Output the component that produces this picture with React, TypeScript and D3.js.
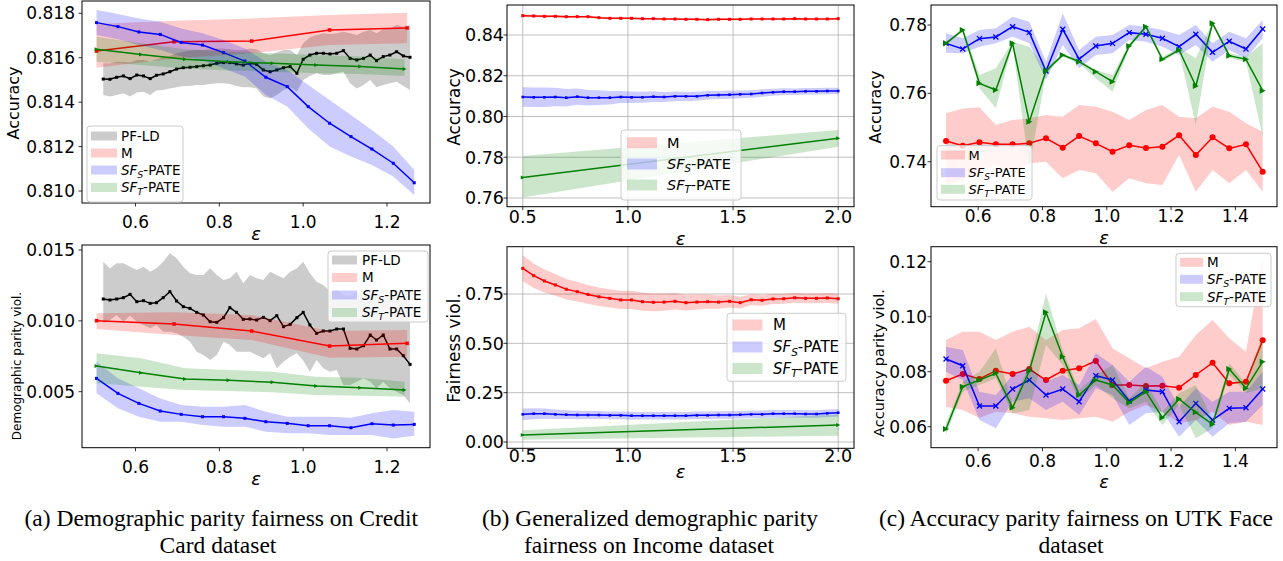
import React from 'react'
import * as d3 from 'd3'

// ---------- (a) Credit Card ----------
const epsPF = [0.523, 0.539, 0.555, 0.571, 0.587, 0.603, 0.619, 0.635, 0.65, 0.666, 0.682, 0.698, 0.714, 0.73, 0.746, 0.762,
  0.778, 0.794, 0.81, 0.825, 0.841, 0.857, 0.873, 0.889, 0.905, 0.921, 0.937, 0.953, 0.969, 0.985, 1.0, 1.016, 1.032,
  1.048, 1.064, 1.08, 1.096, 1.112, 1.128, 1.144, 1.16, 1.175, 1.191, 1.207, 1.223, 1.239, 1.255]
const epsAM = [0.507, 0.692, 0.877, 1.063, 1.248]
const epsAS = [0.507, 0.558, 0.608, 0.659, 0.709, 0.76, 0.81, 0.861, 0.911, 0.962, 1.012, 1.063, 1.114, 1.164, 1.215, 1.265]
const epsAT = [0.507, 0.613, 0.718, 0.822, 0.927, 1.031, 1.136, 1.242]

const accAPF = [0.81504, 0.81503, 0.81512, 0.81518, 0.81506, 0.81522, 0.81518, 0.81506, 0.81521, 0.81527,
  0.81537, 0.81549, 0.81555, 0.81557, 0.8156, 0.81564, 0.81567, 0.81575, 0.81578, 0.81578,
  0.81572, 0.81567, 0.81575, 0.8157, 0.81545, 0.81537, 0.81545, 0.81555, 0.8156, 0.8153,
  0.81593, 0.81612, 0.8162, 0.8162, 0.81617, 0.8162, 0.81632, 0.81597, 0.8159, 0.81597,
  0.81612, 0.81587, 0.81605, 0.81612, 0.81627, 0.81608, 0.81602]
const accAPFHi = [0.81575, 0.81575, 0.81582, 0.81582, 0.81578, 0.8159, 0.8159, 0.81582, 0.81593, 0.81602,
  0.81608, 0.8162, 0.81627, 0.81632, 0.81635, 0.81635, 0.81638, 0.81642, 0.81642, 0.81638,
  0.81635, 0.81635, 0.81642, 0.81638, 0.8162, 0.81612, 0.81623, 0.81635, 0.81635, 0.81612,
  0.81665, 0.81692, 0.81702, 0.8171, 0.81707, 0.8171, 0.81717, 0.8171, 0.81702, 0.81717,
  0.81725, 0.8171, 0.81728, 0.81732, 0.81747, 0.8174, 0.81747]
const accAPFLo = [0.81432, 0.81425, 0.81432, 0.8144, 0.81425, 0.81443, 0.81447, 0.81432, 0.81452, 0.81455,
  0.81462, 0.81467, 0.81473, 0.81473, 0.81477, 0.81477, 0.81482, 0.81485, 0.81485, 0.81482,
  0.81473, 0.81467, 0.81467, 0.81462, 0.81425, 0.81417, 0.81432, 0.81455, 0.81467, 0.81447,
  0.815, 0.81518, 0.8153, 0.81522, 0.81522, 0.8153, 0.81537, 0.81485, 0.81462, 0.81477,
  0.815, 0.81467, 0.81477, 0.81485, 0.81492, 0.81473, 0.81455]
const accAM = [0.8163, 0.81672, 0.81675, 0.81725, 0.81734]
const accAMHi = [0.81752, 0.81767, 0.81777, 0.81792, 0.81803]
const accAMLo = [0.81555, 0.81597, 0.8162, 0.81657, 0.81665]
const accAS = [0.81758, 0.8174, 0.81716, 0.81705, 0.81669, 0.81657, 0.81623, 0.81585, 0.81512, 0.8147, 0.8138, 0.81305,
  0.81245, 0.81189, 0.81125, 0.81037]
const accASHi = [0.81815, 0.81797, 0.81777, 0.81762, 0.81732, 0.8171, 0.8168, 0.81642, 0.81582, 0.81545, 0.81477, 0.8141,
  0.81342, 0.81275, 0.812, 0.81095]
const accASLo = [0.81702, 0.81683, 0.81657, 0.81635, 0.81605, 0.8159, 0.81552, 0.81515, 0.81432, 0.8138, 0.81282, 0.812,
  0.81155, 0.81117, 0.81065, 0.80982]
const accAT = [0.81638, 0.81615, 0.81593, 0.81582, 0.81575, 0.81567, 0.8156, 0.81549]
const accATHi = [0.81695, 0.81665, 0.81638, 0.81627, 0.8162, 0.81612, 0.81605, 0.81593]
const accATLo = [0.81582, 0.81567, 0.81552, 0.81542, 0.81537, 0.8153, 0.81527, 0.81518]

const dpAPF = [0.011541, 0.011471, 0.011541, 0.011635, 0.01187, 0.011353, 0.011424, 0.011235, 0.011282, 0.011635,
  0.012059, 0.0114, 0.011, 0.010882, 0.0106, 0.010412, 0.009941, 0.009894, 0.010224, 0.010929,
  0.0106, 0.010106, 0.010129, 0.010059, 0.010247, 0.010012, 0.010365, 0.009588, 0.009753, 0.010224,
  0.0106, 0.009706, 0.009118, 0.009282, 0.009282, 0.009423, 0.009423, 0.008059, 0.008012, 0.008247,
  0.009, 0.008647, 0.009, 0.008012, 0.008012, 0.007541, 0.006929]
const dpAPFHi = [0.014176, 0.013706, 0.014059, 0.014059, 0.013824, 0.013588, 0.013824, 0.013471, 0.013706, 0.014176,
  0.014765, 0.014412, 0.013824, 0.013353, 0.013235, 0.013235, 0.013706, 0.013235, 0.012882, 0.013,
  0.013471, 0.012647, 0.013235, 0.013, 0.012882, 0.013471, 0.013235, 0.013, 0.013471, 0.013706,
  0.014176, 0.013353, 0.012765, 0.012529, 0.012059, 0.012176, 0.011824, 0.011706, 0.012059, 0.011706,
  0.012059, 0.011941, 0.011706, 0.011824, 0.011706, 0.011588, 0.011353]
const dpAPFLo = [0.009823, 0.010059, 0.010412, 0.009941, 0.010365, 0.009941, 0.009706, 0.009471, 0.009706, 0.009235,
  0.009235, 0.009118, 0.008882, 0.008529, 0.007824, 0.007588, 0.007235, 0.007588, 0.008529, 0.008294,
  0.007824, 0.007824, 0.007824, 0.007588, 0.007353, 0.007706, 0.006647, 0.007118, 0.00747, 0.007706,
  0.0072, 0.006412, 0.007235, 0.006647, 0.006412, 0.006529, 0.00547, 0.00547, 0.005706, 0.005941,
  0.005706, 0.005235, 0.005706, 0.005235, 0.005, 0.004765, 0.004176]
const dpAM = [0.010012, 0.009776, 0.009282, 0.008223, 0.008412]
const dpAMHi = [0.010529, 0.0106, 0.010412, 0.009282, 0.009353]
const dpAMLo = [0.009423, 0.009, 0.008647, 0.0074, 0.00747]
const dpAS = [0.005941, 0.004882, 0.004176, 0.003635, 0.0034, 0.003235, 0.003235, 0.003118, 0.002882, 0.002765, 0.0026,
  0.0026, 0.002459, 0.002741, 0.002647, 0.002694]
const dpASHi = [0.007118, 0.005941, 0.005235, 0.004529, 0.004059, 0.003941, 0.003941, 0.004059, 0.003588, 0.003235,
  0.003235, 0.003235, 0.003165, 0.003471, 0.003706, 0.003588]
const dpASLo = [0.004882, 0.003824, 0.003235, 0.002882, 0.002882, 0.002647, 0.002529, 0.002529, 0.002176, 0.002059,
  0.002059, 0.001941, 0.001941, 0.001941, 0.001706, 0.001894]
const dpAT = [0.006812, 0.006341, 0.005894, 0.0058, 0.005659, 0.0054, 0.005282, 0.005118]
const dpATHi = [0.007706, 0.007353, 0.006647, 0.006529, 0.006412, 0.006059, 0.005988, 0.005706]
const dpATLo = [0.005588, 0.005353, 0.005118, 0.005047, 0.004953, 0.004765, 0.004718, 0.004647]

// ---------- (b) Income ----------
const epsB = [0.5, 0.552, 0.603, 0.655, 0.707, 0.759, 0.81, 0.862, 0.914, 0.966, 1.017, 1.069, 1.121, 1.172, 1.224,
  1.276, 1.328, 1.379, 1.431, 1.483, 1.534, 1.586, 1.638, 1.69, 1.741, 1.793, 1.845, 1.897, 1.948, 2.0]
const epsBT = [0.5, 2.0]

const accBM = [0.84949, 0.84933, 0.84916, 0.84916, 0.849, 0.849, 0.849, 0.84851, 0.84818, 0.84818, 0.84818, 0.84802,
  0.84802, 0.84785, 0.84785, 0.84769, 0.84769, 0.84753, 0.84769, 0.84769, 0.84769, 0.84785, 0.84785, 0.84785,
  0.84785, 0.84802, 0.84785, 0.84785, 0.84785, 0.84802]
const accBMSd = [0.0006, 0.0006, 0.0006, 0.0006, 0.0005, 0.0005, 0.0005, 0.0005, 0.0005, 0.0005, 0.0005, 0.0005, 0.0005,
  0.0005, 0.0005, 0.0005, 0.0005, 0.0005, 0.0005, 0.0005, 0.0005, 0.0005, 0.0005, 0.0005, 0.0005, 0.0005, 0.0005,
  0.0005, 0.0005, 0.0005]
const accBS = [0.80957, 0.80941, 0.80941, 0.80957, 0.80924, 0.80973, 0.80924, 0.80924, 0.80924, 0.80957, 0.80941,
  0.80941, 0.80973, 0.80957, 0.8099, 0.8099, 0.8099, 0.81039, 0.81055, 0.81072, 0.81088, 0.81104, 0.81153, 0.81186,
  0.81219, 0.81219, 0.81235, 0.81235, 0.81251, 0.81251]
const accBSSd = [0.0048, 0.0048, 0.0048, 0.0045, 0.0043, 0.004, 0.0038, 0.0036, 0.0033, 0.003, 0.0028, 0.0027, 0.0026,
  0.0025, 0.0024, 0.0023, 0.0022, 0.0021, 0.002, 0.002, 0.0019, 0.0018, 0.0018, 0.0017, 0.0017, 0.0016, 0.0016,
  0.0016, 0.0016, 0.0016]
const accBT = [0.7701, 0.7893]
const accBTHi = [0.7806, 0.7934]
const accBTLo = [0.7603, 0.7852]

const fvBM = [0.88, 0.843, 0.816, 0.796, 0.774, 0.762, 0.748, 0.736, 0.728, 0.72, 0.72, 0.711, 0.708, 0.709, 0.713,
  0.706, 0.709, 0.711, 0.709, 0.713, 0.706, 0.721, 0.718, 0.725, 0.726, 0.731, 0.728, 0.728, 0.73, 0.726]
const fvBMSd = [0.066, 0.062, 0.058, 0.055, 0.052, 0.05, 0.048, 0.047, 0.046, 0.046, 0.046, 0.046, 0.045, 0.044, 0.042,
  0.04, 0.038, 0.036, 0.034, 0.032, 0.03, 0.028, 0.027, 0.026, 0.025, 0.025, 0.025, 0.025, 0.025, 0.025]
const fvBS = [0.1402, 0.1436, 0.1436, 0.1402, 0.1385, 0.1368, 0.1368, 0.1368, 0.1351, 0.1351, 0.1334, 0.1334, 0.1334,
  0.1334, 0.1334, 0.1334, 0.1351, 0.1351, 0.1368, 0.1368, 0.1385, 0.1402, 0.1402, 0.1436, 0.1436, 0.1436, 0.1419,
  0.1419, 0.1453, 0.1486]
const fvBSSd = [0.03, 0.028, 0.026, 0.024, 0.022, 0.021, 0.02, 0.02, 0.02, 0.02, 0.02, 0.019, 0.019, 0.019, 0.019,
  0.019, 0.019, 0.019, 0.019, 0.019, 0.019, 0.019, 0.019, 0.019, 0.019, 0.019, 0.019, 0.019, 0.019, 0.019]
const fvBT = [0.0355, 0.0861]
const fvBTHi = [0.06, 0.14]
const fvBTLo = [0.012, 0.032]

// ---------- (c) UTK Face ----------
const epsC = [0.5, 0.552, 0.604, 0.655, 0.707, 0.759, 0.811, 0.863, 0.914, 0.966, 1.018, 1.07, 1.122, 1.173, 1.225,
  1.277, 1.329, 1.381, 1.433, 1.485]

const accCM = [0.74605, 0.74468, 0.74566, 0.74507, 0.74507, 0.74537, 0.74683, 0.7441, 0.74751, 0.74537, 0.74293,
  0.74478, 0.744, 0.74439, 0.74771, 0.74195, 0.74712, 0.7439, 0.74507, 0.73707]
const accCMHi = [0.75415, 0.7556, 0.7559, 0.75073, 0.7522, 0.75268, 0.75366, 0.75317, 0.75659, 0.7561, 0.75463, 0.7522,
  0.75512, 0.75659, 0.75317, 0.75268, 0.7561, 0.75463, 0.75122, 0.74878]
const accCMLo = [0.73317, 0.73463, 0.73756, 0.73902, 0.73659, 0.73951, 0.74, 0.73512, 0.73756, 0.73659, 0.73122,
  0.73512, 0.73366, 0.73317, 0.74195, 0.73122, 0.73756, 0.73366, 0.73756, 0.73122]
const accCS = [0.77463, 0.77298, 0.776, 0.77649, 0.77951, 0.77785, 0.76654, 0.77873, 0.77005, 0.77385, 0.77463,
  0.77776, 0.77727, 0.7761, 0.77366, 0.77727, 0.772, 0.77522, 0.77298, 0.77883]
const accCSHi = [0.77756, 0.7761, 0.77854, 0.77902, 0.78244, 0.78098, 0.76927, 0.78341, 0.77268, 0.77659, 0.77707,
  0.78, 0.77951, 0.77854, 0.77707, 0.78, 0.77463, 0.77805, 0.7761, 0.78146]
const accCSLo = [0.7719, 0.77171, 0.77366, 0.77463, 0.77659, 0.77463, 0.7639, 0.77415, 0.76732, 0.77122, 0.77171,
  0.77561, 0.77512, 0.77366, 0.77122, 0.77415, 0.76927, 0.77268, 0.77024, 0.7761]
const accCT = [0.77463, 0.77854, 0.76293, 0.76098, 0.77463, 0.75171, 0.76654, 0.77122, 0.76927, 0.76634, 0.76341,
  0.77385, 0.77951, 0.76995, 0.77268, 0.76215, 0.78049, 0.77102, 0.76995, 0.76078]
const accCTHi = [0.77512, 0.77902, 0.76537, 0.76732, 0.77512, 0.77366, 0.76732, 0.77171, 0.76976, 0.76683, 0.76537,
  0.77463, 0.78, 0.77073, 0.77317, 0.77024, 0.78098, 0.77171, 0.77073, 0.77463]
const accCTLo = [0.77415, 0.77805, 0.76146, 0.75561, 0.77415, 0.73805, 0.76585, 0.77073, 0.76878, 0.76439, 0.76049,
  0.77317, 0.77902, 0.76927, 0.7722, 0.75073, 0.78, 0.77024, 0.76927, 0.74732]

const apCM = [0.07673, 0.07915, 0.07733, 0.08036, 0.07915, 0.08097, 0.07697, 0.08036, 0.08121, 0.08388, 0.07515,
  0.07515, 0.07479, 0.07491, 0.07418, 0.07879, 0.08327, 0.07576, 0.07636, 0.09139]
const apCMHi = [0.09152, 0.09455, 0.09455, 0.09152, 0.09455, 0.09636, 0.09152, 0.09515, 0.09576, 0.09915, 0.08848,
  0.08485, 0.08121, 0.08364, 0.08545, 0.09333, 0.09879, 0.09212, 0.08727, 0.12242]
const apCMLo = [0.06727, 0.06606, 0.06327, 0.06545, 0.06485, 0.06364, 0.06303, 0.06242, 0.06303, 0.06364, 0.06182,
  0.06545, 0.06788, 0.06545, 0.06121, 0.06242, 0.06545, 0.06061, 0.06182, 0.06061]
const apCS = [0.0846, 0.08218, 0.06752, 0.06752, 0.0737, 0.07697, 0.07152, 0.0737, 0.06909, 0.07855, 0.07697, 0.06933,
  0.07333, 0.07273, 0.06182, 0.06848, 0.06242, 0.06667, 0.06691, 0.0737]
const apCSHi = [0.08909, 0.08788, 0.07273, 0.07152, 0.07879, 0.08182, 0.07636, 0.07879, 0.07515, 0.08667, 0.08242,
  0.07636, 0.08182, 0.07818, 0.06727, 0.07394, 0.06909, 0.07273, 0.07273, 0.08]
const apCSLo = [0.08, 0.07697, 0.06242, 0.05939, 0.06909, 0.0703, 0.06606, 0.06909, 0.06424, 0.07394, 0.07152, 0.06061,
  0.06485, 0.06545, 0.05636, 0.06242, 0.05636, 0.06121, 0.06182, 0.06788]
const apCT = [0.05915, 0.07455, 0.07697, 0.07939, 0.06691, 0.08024, 0.10158, 0.08545, 0.07152, 0.07697, 0.07515,
  0.06873, 0.07273, 0.06327, 0.07006, 0.06521, 0.06085, 0.08097, 0.07394, 0.08364]
const apCTHi = [0.06121, 0.07636, 0.08, 0.08848, 0.06848, 0.08242, 0.10848, 0.08788, 0.07333, 0.07879, 0.08242, 0.0703,
  0.07636, 0.06545, 0.07212, 0.07515, 0.06242, 0.08303, 0.07576, 0.09333]
const apCTLo = [0.05697, 0.07273, 0.07515, 0.07758, 0.06485, 0.06606, 0.0897, 0.08242, 0.0697, 0.07515, 0.0703, 0.06667,
  0.06909, 0.06061, 0.06788, 0.05576, 0.05939, 0.07879, 0.07212, 0.07394]

const RED = '#ff0000'
const BLUE = '#0000ff'
const GREEN = '#008000'
const BLACK = '#000000'
const FONT = 'DejaVu Sans, sans-serif'

type Series = {
  eps: number[]
  mean: number[]
  lo: number[]
  hi: number[]
  color: string
  marker: 'sq' | 'o' | 'x' | 'tri'
  ms: number
}

const withSd = (mean: number[], sd: number[]) => ({
  lo: mean.map((m, i) => m - sd[i]),
  hi: mean.map((m, i) => m + sd[i]),
})

type LegendCfg = {
  x: number; y: number; w: number; h: number
  rows: number[]; patchX: number; patchW: number; patchH: number; labelX: number; fs: number
  items: { name: string; color: string }[]
}

type PanelCfg = {
  id: string
  left: number; right: number; top: number; bottom: number
  xDomain: [number, number]; yDomain: [number, number]
  xTicks: number[]; yTicks: number[]; xFmt: string; yFmt: string
  tickFs: number; xTickY: number; yTickX: number
  ylabel: { text: string; x: number; y: number; fs: number }
  xlabel: { x: number; y: number }
  grid: boolean
  series: Series[]
  legend: LegendCfg
}

function Marker({ kind, x, y, color, s }: { kind: string; x: number; y: number; color: string; s: number }) {
  const h = s / 2
  if (kind === 'sq') return <rect x={x - h} y={y - h} width={s} height={s} fill={color} />
  if (kind === 'o') return <circle cx={x} cy={y} r={h} fill={color} />
  if (kind === 'x')
    return <path d={`M${x - h},${y - h}L${x + h},${y + h}M${x - h},${y + h}L${x + h},${y - h}`} stroke={color} strokeWidth={1.3} />
  return <path d={`M${x + h},${y}L${x - h},${y - h}L${x - h},${y + h}Z`} fill={color} />
}

function LegendText({ name, fs }: { name: string; fs: number }) {
  if (name === 'SFS' || name === 'SFT') {
    const sub = fs * 0.22
    return (
      <>
        <tspan fontStyle="italic">SF</tspan>
        <tspan fontStyle="italic" fontSize={fs * 0.7} dy={sub}>{name[2]}</tspan>
        <tspan dy={-sub}>-PATE</tspan>
      </>
    )
  }
  return <>{name}</>
}

function Legend({ cfg }: { cfg: LegendCfg }) {
  return (
    <g fontFamily={FONT} fontSize={cfg.fs}>
      <rect x={cfg.x} y={cfg.y} width={cfg.w} height={cfg.h} rx={3} fill="#fff" fillOpacity={0.8} stroke="#cccccc" strokeWidth={1} />
      {cfg.items.map((it, i) => (
        <g key={it.name}>
          <rect x={cfg.patchX} y={cfg.rows[i] - cfg.patchH / 2} width={cfg.patchW} height={cfg.patchH}
            fill={it.color} fillOpacity={0.2} />
          <text x={cfg.labelX} y={cfg.rows[i]} dy="0.36em" fill="#000">
            <LegendText name={it.name} fs={cfg.fs} />
          </text>
        </g>
      ))}
    </g>
  )
}

function Panel({ p }: { p: PanelCfg }) {
  const x = d3.scaleLinear().domain(p.xDomain).range([p.left, p.right])
  const y = d3.scaleLinear().domain(p.yDomain).range([p.bottom, p.top])
  const xf = d3.format(p.xFmt)
  const yf = d3.format(p.yFmt)
  return (
    <g>
      <defs>
        <clipPath id={p.id}>
          <rect x={p.left} y={p.top} width={p.right - p.left} height={p.bottom - p.top} />
        </clipPath>
      </defs>
      {p.grid && (
        <g stroke="#b0b0b0" strokeWidth={0.8}>
          {p.xTicks.map(t => <line key={'gx' + t} x1={x(t)} x2={x(t)} y1={p.top} y2={p.bottom} />)}
          {p.yTicks.map(t => <line key={'gy' + t} x1={p.left} x2={p.right} y1={y(t)} y2={y(t)} />)}
        </g>
      )}
      <g clipPath={`url(#${p.id})`}>
        {p.series.map((s, si) => {
          const pts = s.eps.map((e, i) => ({ e, m: s.mean[i], lo: s.lo[i], hi: s.hi[i] }))
          const area = d3.area<any>().x(d => x(d.e)).y0(d => y(d.lo)).y1(d => y(d.hi))
          const line = d3.line<any>().x(d => x(d.e)).y(d => y(d.m))
          return (
            <g key={si}>
              <path d={area(pts) || ''} fill={s.color} fillOpacity={0.2} stroke="none" />
              <path d={line(pts) || ''} fill="none" stroke={s.color} strokeWidth={1.5} />
              {pts.map((d, i) => <Marker key={i} kind={s.marker} x={x(d.e)} y={y(d.m)} color={s.color} s={s.ms} />)}
            </g>
          )
        })}
      </g>
      <rect x={p.left} y={p.top} width={p.right - p.left} height={p.bottom - p.top} fill="none" stroke="#000" strokeWidth={1} />
      <g fontFamily={FONT} fontSize={p.tickFs} fill="#000">
        {p.xTicks.map(t => (
          <g key={'xt' + t}>
            <line x1={x(t)} x2={x(t)} y1={p.bottom} y2={p.bottom + 3.5} stroke="#000" strokeWidth={0.8} />
            <text x={x(t)} y={p.xTickY} textAnchor="middle">{xf(t)}</text>
          </g>
        ))}
        {p.yTicks.map(t => (
          <g key={'yt' + t}>
            <line x1={p.left - 3.5} x2={p.left} y1={y(t)} y2={y(t)} stroke="#000" strokeWidth={0.8} />
            <text x={p.yTickX} y={y(t)} dy="0.36em" textAnchor="end">{yf(t)}</text>
          </g>
        ))}
      </g>
      <text transform={`translate(${p.ylabel.x},${p.ylabel.y}) rotate(-90)`} dy="0.27em" textAnchor="middle"
        fontFamily={FONT} fontSize={p.ylabel.fs}>{p.ylabel.text}</text>
      <text x={p.xlabel.x} y={p.xlabel.y} dy="0.3em" textAnchor="middle" fontFamily={FONT} fontSize={18}
        fontStyle="italic">ε</text>
      <Legend cfg={p.legend} />
    </g>
  )
}

const itemsA = [
  { name: 'PF-LD', color: BLACK },
  { name: 'M', color: RED },
  { name: 'SFS', color: BLUE },
  { name: 'SFT', color: GREEN },
]
const itemsBC = itemsA.slice(1)

const panels: PanelCfg[] = [
  {
    id: 'cpA1', left: 82, right: 430, top: 1, bottom: 203,
    xDomain: [0.4723, 1.3026], yDomain: [0.80946, 0.818554],
    xTicks: [0.6, 0.8, 1.0, 1.2], yTicks: [0.81, 0.812, 0.814, 0.816, 0.818], xFmt: '.1f', yFmt: '.3f',
    tickFs: 17, xTickY: 228, yTickX: 75,
    ylabel: { text: 'Accuracy', x: 15, y: 103, fs: 16 }, xlabel: { x: 256, y: 235 }, grid: false,
    series: [
      { eps: epsPF, mean: accAPF, lo: accAPFLo, hi: accAPFHi, color: BLACK, marker: 'sq', ms: 3 },
      { eps: epsAM, mean: accAM, lo: accAMLo, hi: accAMHi, color: RED, marker: 'sq', ms: 3.5 },
      { eps: epsAS, mean: accAS, lo: accASLo, hi: accASHi, color: BLUE, marker: 'sq', ms: 3 },
      { eps: epsAT, mean: accAT, lo: accATLo, hi: accATHi, color: GREEN, marker: 'tri', ms: 4 },
    ],
    legend: { x: 87, y: 126, w: 96, h: 76, rows: [136, 153, 170, 187.5], patchX: 91, patchW: 26, patchH: 9, labelX: 121, fs: 13.5, items: itemsA },
  },
  {
    id: 'cpA2', left: 82, right: 430, top: 245, bottom: 447.7,
    xDomain: [0.4723, 1.3026], yDomain: [0.001048, 0.015353],
    xTicks: [0.6, 0.8, 1.0, 1.2], yTicks: [0.005, 0.01, 0.015], xFmt: '.1f', yFmt: '.3f',
    tickFs: 17, xTickY: 473, yTickX: 75,
    ylabel: { text: 'Demographic parity viol.', x: 18, y: 366, fs: 12 }, xlabel: { x: 256, y: 480 }, grid: false,
    series: [
      { eps: epsPF, mean: dpAPF, lo: dpAPFLo, hi: dpAPFHi, color: BLACK, marker: 'sq', ms: 3 },
      { eps: epsAM, mean: dpAM, lo: dpAMLo, hi: dpAMHi, color: RED, marker: 'sq', ms: 3.5 },
      { eps: epsAS, mean: dpAS, lo: dpASLo, hi: dpASHi, color: BLUE, marker: 'sq', ms: 3 },
      { eps: epsAT, mean: dpAT, lo: dpATLo, hi: dpATHi, color: GREEN, marker: 'tri', ms: 4 },
    ],
    legend: { x: 328, y: 251, w: 100, h: 71, rows: [260, 277.5, 295, 312.5], patchX: 332, patchW: 25, patchH: 9, labelX: 362, fs: 13.5, items: itemsA },
  },
  {
    id: 'cpB1', left: 507, right: 854, top: 5, bottom: 206.7,
    xDomain: [0.425, 2.075], yDomain: [0.75573, 0.85472],
    xTicks: [0.5, 1.0, 1.5, 2.0], yTicks: [0.76, 0.78, 0.8, 0.82, 0.84], xFmt: '.1f', yFmt: '.2f',
    tickFs: 17.5, xTickY: 223, yTickX: 504,
    ylabel: { text: 'Accuracy', x: 455, y: 107, fs: 17 }, xlabel: { x: 680.5, y: 240 }, grid: true,
    series: [
      { eps: epsB, mean: accBM, ...withSd(accBM, accBMSd), color: RED, marker: 'sq', ms: 3 },
      { eps: epsB, mean: accBS, ...withSd(accBS, accBSSd), color: BLUE, marker: 'sq', ms: 2.6 },
      { eps: epsBT, mean: accBT, lo: accBTLo, hi: accBTHi, color: GREEN, marker: 'tri', ms: 4 },
    ],
    legend: { x: 621, y: 130, w: 120, h: 70, rows: [142.7, 164, 185], patchX: 627, patchW: 30, patchH: 11, labelX: 667, fs: 14.5, items: itemsBC },
  },
  {
    id: 'cpB2', left: 507, right: 854, top: 246.7, bottom: 448.3,
    xDomain: [0.425, 2.075], yDomain: [-0.0319, 0.9897],
    xTicks: [0.5, 1.0, 1.5, 2.0], yTicks: [0, 0.25, 0.5, 0.75], xFmt: '.1f', yFmt: '.2f',
    tickFs: 17.5, xTickY: 462, yTickX: 504,
    ylabel: { text: 'Fairness viol.', x: 455, y: 348, fs: 17 }, xlabel: { x: 680.5, y: 472.5 }, grid: true,
    series: [
      { eps: epsB, mean: fvBM, ...withSd(fvBM, fvBMSd), color: RED, marker: 'sq', ms: 3 },
      { eps: epsB, mean: fvBS, ...withSd(fvBS, fvBSSd), color: BLUE, marker: 'sq', ms: 2.6 },
      { eps: epsBT, mean: fvBT, lo: fvBTLo, hi: fvBTHi, color: GREEN, marker: 'tri', ms: 4 },
    ],
    legend: { x: 727, y: 313.3, w: 119, h: 68, rows: [325, 347, 368.5], patchX: 732.5, patchW: 30, patchH: 11, labelX: 773, fs: 15, items: itemsBC },
  },
  {
    id: 'cpC1', left: 931, right: 1277, top: 5, bottom: 206.7,
    xDomain: [0.4533, 1.5295], yDomain: [0.72683, 0.78585],
    xTicks: [0.6, 0.8, 1.0, 1.2, 1.4], yTicks: [0.74, 0.76, 0.78], xFmt: '.1f', yFmt: '.2f',
    tickFs: 17, xTickY: 222, yTickX: 927,
    ylabel: { text: 'Accuracy', x: 877, y: 107, fs: 16 }, xlabel: { x: 1104, y: 238.5 }, grid: false,
    series: [
      { eps: epsC, mean: accCM, lo: accCMLo, hi: accCMHi, color: RED, marker: 'o', ms: 6 },
      { eps: epsC, mean: accCS, lo: accCSLo, hi: accCSHi, color: BLUE, marker: 'x', ms: 5 },
      { eps: epsC, mean: accCT, lo: accCTLo, hi: accCTHi, color: GREEN, marker: 'tri', ms: 6 },
    ],
    legend: { x: 937, y: 145.7, w: 95, h: 54.3, rows: [155, 172.7, 189.3], patchX: 941, patchW: 24, patchH: 9, labelX: 968.5, fs: 13, items: itemsBC },
  },
  {
    id: 'cpC2', left: 931, right: 1277, top: 246.7, bottom: 447.7,
    xDomain: [0.4533, 1.5295], yDomain: [0.05236, 0.12545],
    xTicks: [0.6, 0.8, 1.0, 1.2, 1.4], yTicks: [0.06, 0.08, 0.1, 0.12], xFmt: '.1f', yFmt: '.2f',
    tickFs: 17, xTickY: 467, yTickX: 927,
    ylabel: { text: 'Accuracy parity viol.', x: 880, y: 363, fs: 14.5 }, xlabel: { x: 1104, y: 483 }, grid: false,
    series: [
      { eps: epsC, mean: apCM, lo: apCMLo, hi: apCMHi, color: RED, marker: 'o', ms: 6 },
      { eps: epsC, mean: apCS, lo: apCSLo, hi: apCSHi, color: BLUE, marker: 'x', ms: 5 },
      { eps: epsC, mean: apCT, lo: apCTLo, hi: apCTHi, color: GREEN, marker: 'tri', ms: 6 },
    ],
    legend: { x: 1176, y: 253.3, w: 95, h: 53.4, rows: [262.3, 279.3, 296.7], patchX: 1180, patchW: 23, patchH: 9, labelX: 1207, fs: 13.5, items: itemsBC },
  },
]

const captions = [
  { lines: ['(a) Demographic parity fairness on Credit', 'Card dataset'], x1: 418, a1: 'end', x2: 218 },
  { lines: ['(b) Generalized demographic parity', 'fairness on Income dataset'], x1: 650, a1: 'middle', x2: 649 },
  { lines: ['(c) Accuracy parity fairness on UTK Face', 'dataset'], x1: 1273, a1: 'end', x2: 1071 },
]

export default function App() {
  return (
    <svg width={1283} height={561} style={{ position: 'absolute', left: 0, top: 0, background: '#fff' }}>
      <rect width={1283} height={561} fill="#fff" />
      {panels.map(p => <Panel key={p.id} p={p} />)}
      <g fontFamily="Liberation Serif, Times New Roman, serif" fontSize={23.5} fill="#000">
        {captions.map((c, i) => (
          <g key={i}>
            <text x={c.x1} y={526} textAnchor={c.a1 as any}>{c.lines[0]}</text>
            <text x={c.x2} y={553} textAnchor="middle">{c.lines[1]}</text>
          </g>
        ))}
      </g>
    </svg>
  )
}
